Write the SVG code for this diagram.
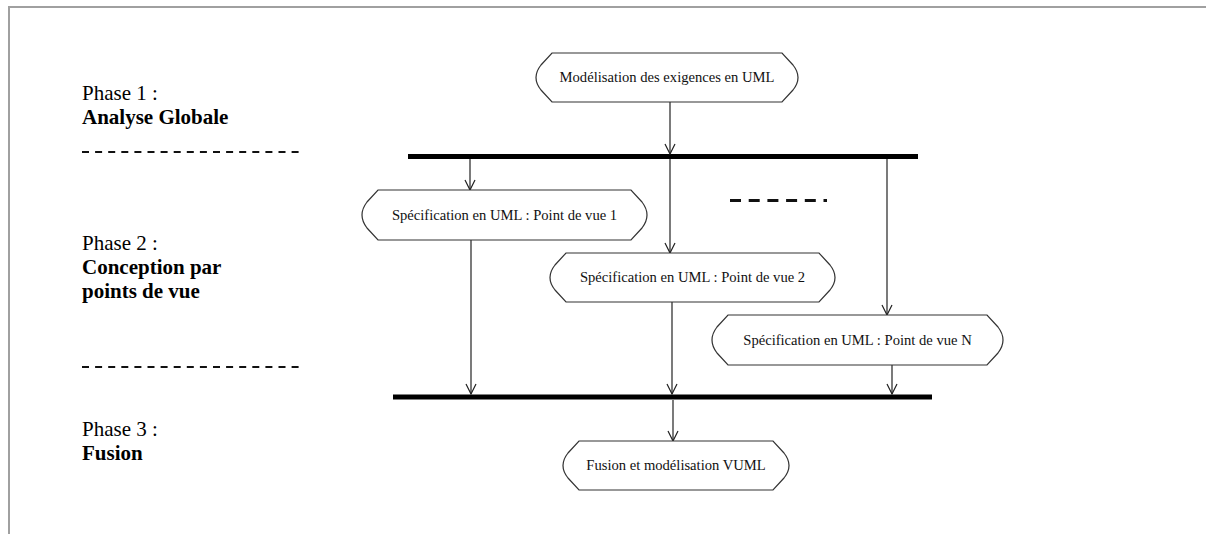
<svg xmlns="http://www.w3.org/2000/svg" width="1206" height="534" viewBox="0 0 1206 534">
<defs>
<style>
.frame{fill:none;stroke:#a0a0a0;stroke-width:2}
.node{fill:#fff;stroke:#333;stroke-width:1.2}
.ntext{font-family:"Liberation Serif","Times New Roman",serif;font-size:14.6px;fill:#111;text-anchor:middle}
.phase{font-family:"Liberation Serif","Times New Roman",serif;font-size:21px;fill:#000}
.bold{font-weight:bold}
.bar{stroke:#000;stroke-width:5}
.edge{stroke:#222;stroke-width:1.2;fill:none;marker-end:url(#arr)}
.sep{stroke:#111;stroke-width:2;stroke-dasharray:7 6.1}
</style>
<marker id="arr" viewBox="0 0 12 12" refX="11" refY="6" markerWidth="12" markerHeight="12" markerUnits="userSpaceOnUse" orient="auto">
<path d="M1,1 L11,6 L1,11" fill="none" stroke="#222" stroke-width="1.2"/>
</marker>
</defs>
<rect width="1206" height="534" fill="#fff"/>
<path class="frame" d="M9,534 V7 H1206"/>

<g id="labels">
<text class="phase" x="82" y="100">Phase 1 :</text>
<text class="phase bold" x="82" y="124">Analyse Globale</text>
<line class="sep" x1="82" y1="152" x2="299" y2="152"/>
<text class="phase" x="82" y="250">Phase 2 :</text>
<text class="phase bold" x="82" y="274">Conception par</text>
<text class="phase bold" x="82" y="298">points de vue</text>
<line class="sep" x1="82" y1="367" x2="299" y2="367"/>
<text class="phase" x="82" y="436">Phase 3 :</text>
<text class="phase bold" x="82" y="460">Fusion</text>
</g>

<g id="connectors">
<line class="bar" x1="408" y1="156.5" x2="918" y2="156.5"/>
<line class="bar" x1="393" y1="397" x2="932" y2="397"/>
<line class="edge" x1="670" y1="102" x2="670" y2="154"/>
<line class="edge" x1="470" y1="159" x2="470" y2="190"/>
<line class="edge" x1="670" y1="159" x2="670" y2="253"/>
<line class="edge" x1="887" y1="159" x2="887" y2="315"/>
<line class="edge" x1="471" y1="240" x2="471" y2="394"/>
<line class="edge" x1="672" y1="302" x2="672" y2="394"/>
<line class="edge" x1="892" y1="365" x2="892" y2="394"/>
<line class="edge" x1="673" y1="400" x2="673" y2="441"/>
<line x1="730" y1="200.5" x2="827" y2="200.5" stroke="#111" stroke-width="3" stroke-dasharray="11 7.7"/>
</g>

<g id="n1">
<path class="node" d="M552,53 H782 L793,65 Q803,77.5 793,90 L782,102 H552 L541,90 Q531,77.5 541,65 Z"/>
<text class="ntext" x="667" y="82">Modélisation des exigences en UML</text>
</g>
<g id="sp1">
<path class="node" d="M378,190 H631 L642,202 Q652,215 642,228 L631,240 H378 L367,228 Q357,215 367,202 Z"/>
<text class="ntext" x="504.5" y="220">Spécification en UML : Point de vue 1</text>
</g>
<g id="sp2">
<path class="node" d="M566,253 H819 L830,265 Q840,277.5 830,290 L819,302 H566 L555,290 Q545,277.5 555,265 Z"/>
<text class="ntext" x="692.5" y="282">Spécification en UML : Point de vue 2</text>
</g>
<g id="spn">
<path class="node" d="M728,315 H987 L998,327 Q1008,340 998,353 L987,365 H728 L717,353 Q707,340 717,327 Z"/>
<text class="ntext" x="857.5" y="345">Spécification en UML : Point de vue N</text>
</g>
<g id="fusion">
<path class="node" d="M579,441 H773 L784,453 Q794,465.5 784,478 L773,490 H579 L568,478 Q558,465.5 568,453 Z"/>
<text class="ntext" x="676" y="470">Fusion et modélisation VUML</text>
</g>
</svg>
